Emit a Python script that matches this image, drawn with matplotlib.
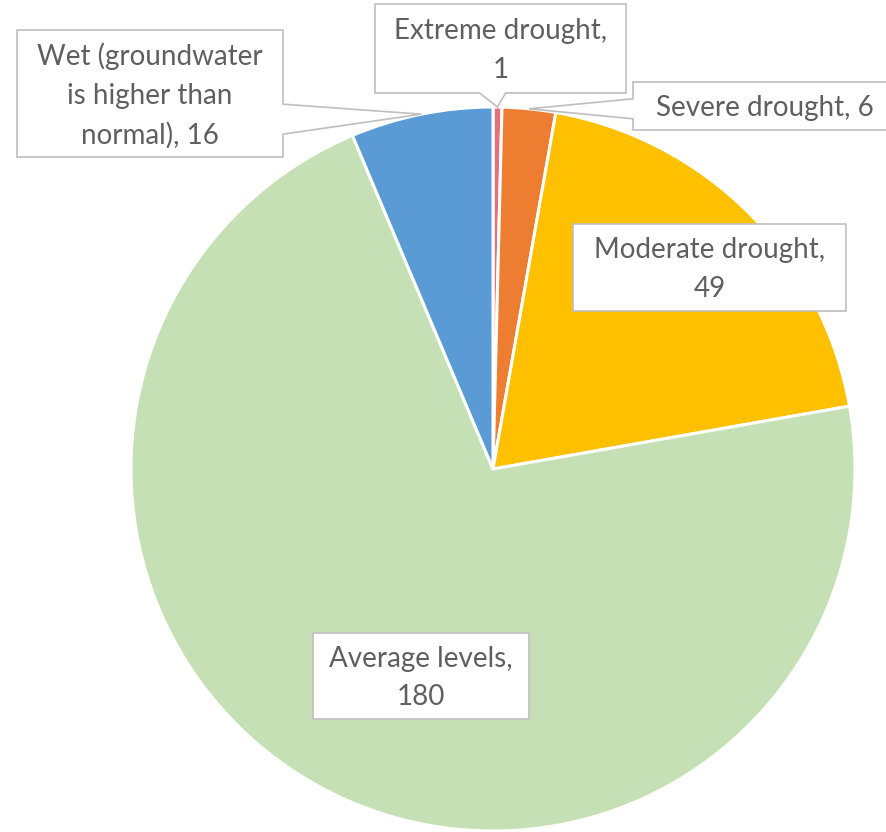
import matplotlib
matplotlib.use("Agg")
import matplotlib.pyplot as plt
from matplotlib.patches import Polygon
import numpy as np

# Groundwater status counts
categories = ["Extreme drought", "Severe drought", "Moderate drought",
              "Average levels", "Wet (groundwater\nis higher than\nnormal)"]
counts = [1, 6, 49, 180, 16]
separators = ["\n", " ", "\n", "\n", " "]
colors = ["#E5707A", "#ED7D31", "#FFC000", "#C5E0B4", "#5B9BD5"]

W, H = 887, 832
fig = plt.figure(figsize=(W / 100, H / 100), dpi=100)
ax = fig.add_axes([0, 0, 1, 1])

cx, cy, r = 493, H - 469, 362
wedges, _ = ax.pie(counts, colors=colors, startangle=90, counterclock=False,
                   center=(cx, cy), radius=r,
                   wedgeprops=dict(edgecolor="white", linewidth=2.2))
ax.set_xlim(0, W)
ax.set_ylim(0, H)
ax.set_aspect("equal")
ax.axis("off")

# label boxes (left, top, right, bottom in pixel rows from the top) and pointer side
boxes = [
    ((375, 4, 626, 93), "bottom"),
    ((633, 82, 897, 130), "left"),
    ((573, 224, 846, 311), None),
    ((313, 633, 529, 719), None),
    ((17, 30, 283, 157), "right"),
]
half_base = [13, 10, 0, 0, 15]
pointer_shift = [-5, 0, 0, 0, 5]


def callout_path(box, side, tip, hb, shift):
    l, t, rr, b = box
    # convert to y-up coordinates
    T, B = H - t, H - b
    tx, ty = tip
    pts = [(l, T), (rr, T)]
    if side == "right":
        yc = min(max(ty - shift, B + hb), T - hb)
        pts += [(rr, yc + hb), (tx, ty), (rr, yc - hb)]
    pts += [(rr, B)]
    if side == "bottom":
        xc = min(max(tx + shift, l + hb), rr - hb)
        pts += [(xc + hb, B), (tx, ty), (xc - hb, B)]
    pts += [(l, B)]
    if side == "left":
        yc = min(max(ty - shift, B + hb), T - hb)
        pts += [(l, yc - hb), (tx, ty), (l, yc + hb)]
    return pts


for w, cat, val, sep, (box, side), hb, sh in zip(wedges, categories, counts,
                                                  separators, boxes, half_base,
                                                  pointer_shift):
    mid = np.deg2rad((w.theta1 + w.theta2) / 2)
    tip = (cx + r * np.cos(mid), cy + r * np.sin(mid))
    poly = Polygon(callout_path(box, side, tip, hb, sh), closed=True,
                   facecolor="white", edgecolor="#BFBFBF", linewidth=1.2,
                   zorder=5)
    ax.add_patch(poly)
    l, t, rr, b = box
    ax.text((l + rr) / 2, H - (t + b) / 2 - 2, f"{cat},{sep}{val}",
            ha="center", va="center", color="#5F5F5F", fontsize=20,
            family="Lato", linespacing=1.6, zorder=6)

fig.savefig("out.png", dpi=100)
